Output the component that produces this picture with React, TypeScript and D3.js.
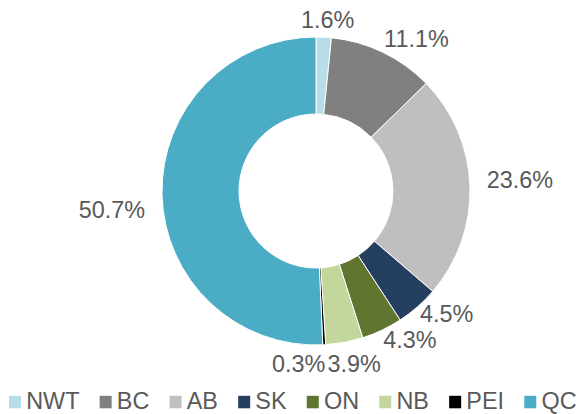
import React, { useEffect, useRef } from "react";
import * as d3 from "d3";

const categories = ["NWT", "BC", "AB", "SK", "ON", "NB", "PEI", "QC"];
const shares = [1.6, 11.1, 23.6, 4.5, 4.3, 3.9, 0.3, 50.7];
const colors = ["#B7DEE8", "#808080", "#BFBFBF", "#243F60", "#5F7530", "#C3D69B", "#000000", "#4BACC6"];
// manual label nudges (labels were hand-placed in the original)
const labelNudge: [number, number][] = [
  [2.2, -2.2], [16.9, -0.4], [10.8, -5.7], [7.7, -4.8], [14, -3.6], [3.8, 6.3], [-27.3, 3.6], [-11, 14.6],
];

const W = 582, H = 414;
const FONT = "'Liberation Sans', Arial, sans-serif";
const FS = 23.4;
const TEXT = "#595959";

export default function App() {
  const ref = useRef<SVGSVGElement>(null);
  useEffect(() => {
    const svg = d3.select(ref.current);
    svg.selectAll("*").remove();
    const cx = 316, cy = 191, R = 154, r0 = 77;
    const data = categories.map((c, i) => ({ c, v: shares[i], i }));
    const pie = d3.pie<any>().sort(null).value((d) => d.v).startAngle(0).endAngle(2 * Math.PI);
    const arcs = pie(data);
    const arc = d3.arc<any>().innerRadius(r0).outerRadius(R);
    const g = svg.append("g").attr("transform", `translate(${cx},${cy})`);
    g.selectAll("path")
      .data(arcs)
      .join("path")
      .attr("d", arc as any)
      .attr("fill", (d) => colors[d.data.i])
      .attr("stroke", "#ffffff")
      .attr("stroke-width", 1);

    // labels
    arcs.forEach((a, i) => {
      const mid = (a.startAngle + a.endAngle) / 2;
      const s = Math.sin(mid), c = Math.cos(mid);
      const t = svg.append("text")
        .attr("font-family", FONT)
        .attr("font-size", FS)
        .attr("fill", TEXT)
        .attr("text-anchor", "middle")
        .text(`${shares[i].toFixed(1)}%`);
      const w = (t.node() as SVGTextElement).getComputedTextLength();
      const h = 18;
      const x = cx + 160 * s + (s * w) / 2 + labelNudge[i][0];
      const y = cy - 160 * c - (c * h) / 2 + labelNudge[i][1];
      t.attr("x", x).attr("y", y + 8.3);
    });

    // legend
    const lg = svg.append("g");
    let x = 9;
    const baseline = 408.8;
    categories.forEach((cat, i) => {
      lg.append("rect")
        .attr("x", x)
        .attr("y", baseline - 13)
        .attr("width", 12)
        .attr("height", 12.5)
        .attr("fill", colors[i]);
      const t = lg.append("text")
        .attr("x", x + 17.2)
        .attr("y", baseline)
        .attr("font-family", FONT)
        .attr("font-size", FS)
        .attr("fill", TEXT)
        .text(cat);
      const w = (t.node() as SVGTextElement).getComputedTextLength();
      x = x + 17.2 + w + 20.2;
    });
  }, []);
  return (
    <div style={{ position: "absolute", left: 0, top: 0 }}>
      <svg ref={ref} width={W} height={H} style={{ display: "block", background: "#fff" }} />
    </div>
  );
}
